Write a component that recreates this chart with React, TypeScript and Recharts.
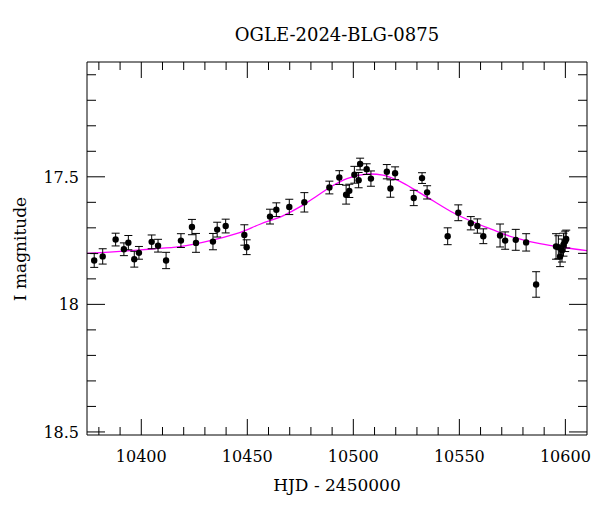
import { ComposedChart, Scatter, Line, XAxis, YAxis, ErrorBar } from 'recharts';

// photometry (HJD - 2450000, I mag, error)
const hjd = [
  10377.8, 10381.8, 10387.9, 10391.8, 10393.9, 10396.7, 10398.9, 10404.9, 10407.9, 10411.7,
  10418.7, 10423.9, 10425.8, 10433.8, 10435.8, 10439.8, 10448.6, 10449.7, 10460.7, 10463.7,
  10469.8, 10476.9, 10488.7, 10493.4, 10496.6, 10498.1, 10500.5, 10502.5, 10503.2, 10506.3,
  10508.3, 10515.8, 10517.5, 10519.7, 10528.5, 10532.4, 10534.8, 10544.5, 10549.5, 10555.4,
  10558.5, 10561.3, 10569.2, 10571.6, 10576.6, 10581.5, 10586.2, 10595.6, 10596.7, 10597.5,
  10598.4, 10599.1, 10599.9, 10600.4,
];
const mag = [
  17.828, 17.812, 17.746, 17.784, 17.758, 17.823, 17.798, 17.755, 17.77, 17.828,
  17.75, 17.697, 17.759, 17.754, 17.707, 17.693, 17.728, 17.776, 17.656, 17.629,
  17.618, 17.6, 17.542, 17.503, 17.57, 17.555, 17.492, 17.513, 17.45, 17.47,
  17.507, 17.48, 17.546, 17.486, 17.583, 17.505, 17.561, 17.733, 17.641, 17.682,
  17.693, 17.733, 17.73, 17.75, 17.747, 17.757, 17.922, 17.773, 17.776, 17.812,
  17.789, 17.766, 17.753, 17.744,
];
const magErr = [
  0.027, 0.03, 0.025, 0.025, 0.028, 0.031, 0.025, 0.027, 0.025, 0.032,
  0.027, 0.03, 0.037, 0.032, 0.029, 0.027, 0.04, 0.029, 0.029, 0.027,
  0.03, 0.038, 0.025, 0.027, 0.037, 0.026, 0.033, 0.03, 0.023, 0.021,
  0.03, 0.028, 0.034, 0.025, 0.03, 0.021, 0.026, 0.033, 0.031, 0.026,
  0.028, 0.029, 0.045, 0.034, 0.041, 0.034, 0.05, 0.05, 0.045, 0.04,
  0.045, 0.045, 0.04, 0.035,
];

// model curve
const modelHjd = [
  10374.4, 10385, 10395, 10405, 10418, 10434, 10446, 10456, 10467, 10475, 10483, 10490, 10497,
  10503, 10508, 10514, 10522, 10530, 10538, 10546, 10557, 10565, 10572, 10580, 10588, 10600, 10610.2,
];
const modelMag = [
  17.8, 17.795, 17.789, 17.783, 17.774, 17.747, 17.72, 17.686, 17.652, 17.617, 17.574, 17.536, 17.507,
  17.493, 17.489, 17.493, 17.518, 17.556, 17.596, 17.636, 17.679, 17.705, 17.728, 17.747, 17.762, 17.778, 17.789,
];

const xMajorTicks = [10400, 10450, 10500, 10550, 10600];
const xMinorTicks = [10380, 10390, 10410, 10420, 10430, 10440, 10460, 10470, 10480, 10490, 10510, 10520, 10530, 10540, 10560, 10570, 10580, 10590];
const yMajorTicks = [17.5, 18, 18.5];
const yMinorTicks = [17.1, 17.2, 17.3, 17.4, 17.6, 17.7, 17.8, 17.9, 18.1, 18.2, 18.3, 18.4];

const points = hjd.map((t, i) => ({ hjd: t, mag: mag[i], err: magErr[i] }));
const model = modelHjd.map((t, i) => ({ hjd: t, mag: modelMag[i] }));
const xTicks = [...xMinorTicks, ...xMajorTicks].sort((a, b) => a - b);
const yTicks = [...yMinorTicks, ...yMajorTicks].sort((a, b) => a - b);

const FONT = '"DejaVu Serif", serif';
const xDomain = [10374.4, 10610.2];
const yDomain = [17.05, 18.512];

function BottomTick({ x, y, payload }: any) {
  const major = xMajorTicks.includes(payload.value);
  return (
    <g>
      <line x1={x} y1={y} x2={x} y2={y - (major ? 16 : 8)} stroke="#000" />
      {major && (
        <text x={x} y={y + 27} textAnchor="middle" fontFamily={FONT} fontSize={16} fill="#000">
          {payload.value}
        </text>
      )}
    </g>
  );
}

function TopTick({ x, y, payload }: any) {
  const major = xMajorTicks.includes(payload.value);
  return <line x1={x} y1={y} x2={x} y2={y + (major ? 16 : 8)} stroke="#000" />;
}

function LeftTick({ x, y, payload }: any) {
  const major = yMajorTicks.includes(payload.value);
  return (
    <g>
      <line x1={x} y1={y} x2={x + (major ? 18 : 9)} y2={y} stroke="#000" />
      {major && (
        <text x={x - 8} y={y + 6} textAnchor="end" fontFamily={FONT} fontSize={16} fill="#000">
          {payload.value}
        </text>
      )}
    </g>
  );
}

function RightTick({ x, y, payload }: any) {
  const major = yMajorTicks.includes(payload.value);
  return <line x1={x} y1={y} x2={x - (major ? 18 : 9)} y2={y} stroke="#000" />;
}

function Dot({ cx, cy }: any) {
  return <circle cx={cx} cy={cy} r={3.2} fill="#000" />;
}

export default function App() {
  return (
    <div style={{ position: 'absolute', left: 0, top: 0, width: 600, height: 512, background: '#fff' }}>
      <ComposedChart width={600} height={512} margin={{ top: 61, right: 12, bottom: 76, left: 86 }}>
        <XAxis
          dataKey="hjd" type="number" domain={xDomain} allowDataOverflow ticks={xTicks} interval={0}
          height={1} tickSize={0} tickMargin={0} tickLine={false} tick={<BottomTick />}
          axisLine={{ stroke: '#000' }}
        />
        <XAxis
          xAxisId="top" orientation="top" dataKey="hjd" type="number" domain={xDomain} allowDataOverflow
          ticks={xTicks} interval={0} height={1} tickSize={0} tickMargin={0} tickLine={false}
          tick={<TopTick />} axisLine={{ stroke: '#000' }}
        />
        <YAxis
          dataKey="mag" type="number" domain={yDomain} allowDataOverflow reversed ticks={yTicks} interval={0}
          width={1} tickSize={0} tickMargin={0} tickLine={false} tick={<LeftTick />}
          axisLine={{ stroke: '#000' }}
        />
        <YAxis
          yAxisId="right" orientation="right" dataKey="mag" type="number" domain={yDomain} allowDataOverflow
          reversed ticks={yTicks} interval={0} width={1} tickSize={0} tickMargin={0} tickLine={false}
          tick={<RightTick />} axisLine={{ stroke: '#000' }}
        />
        <Line
          data={model} dataKey="mag" type="monotone" stroke="#ff00ff" strokeWidth={1.3}
          dot={false} activeDot={false} isAnimationActive={false}
        />
        <Scatter data={points} dataKey="mag" shape={<Dot />} isAnimationActive={false}>
          <ErrorBar dataKey="err" direction="y" width={4} stroke="#000" strokeWidth={1} />
        </Scatter>
      </ComposedChart>
      <svg width={600} height={512} style={{ position: 'absolute', left: 0, top: 0, pointerEvents: 'none' }}>
        <text x={337} y={41} textAnchor="middle" fontFamily={FONT} fontSize={18} fill="#000">
          OGLE-2024-BLG-0875
        </text>
        <text x={337} y={491} textAnchor="middle" fontFamily={FONT} fontSize={17} fill="#000">
          HJD - 2450000
        </text>
        <text
          x={26} y={249} textAnchor="middle" fontFamily={FONT} fontSize={17} fill="#000"
          transform="rotate(-90 26 249)"
        >
          I magnitude
        </text>
      </svg>
    </div>
  );
}
